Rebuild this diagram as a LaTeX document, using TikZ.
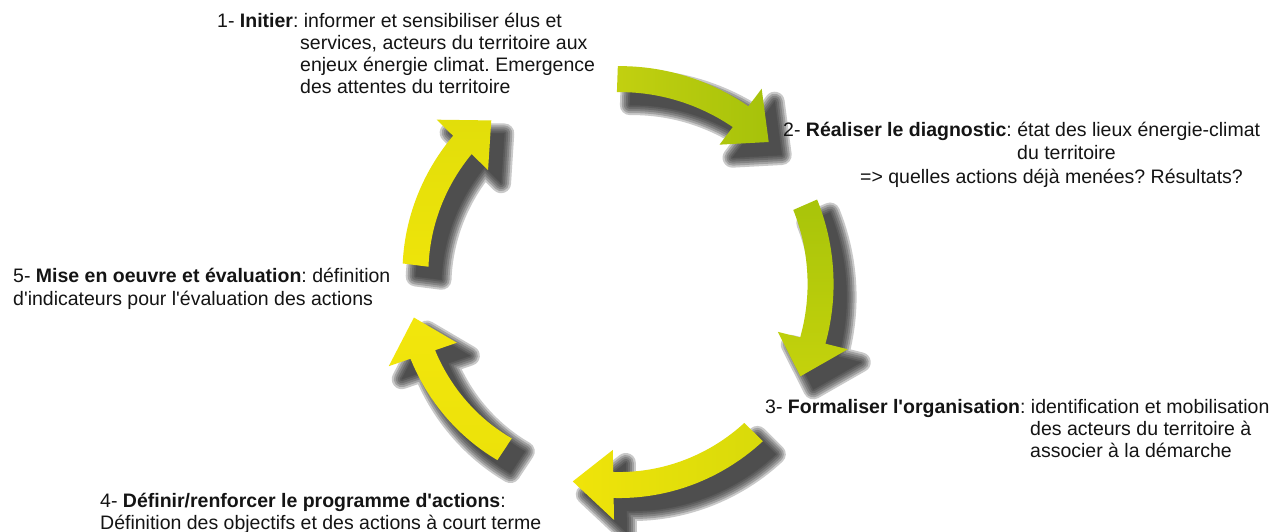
\documentclass[tikz,border=0pt]{standalone}
\usepackage{fontspec}
\setmainfont{Liberation Sans}[Ligatures=TeXOff]
\frenchspacing
\definecolor{gA1}{HTML}{C2D010}
\definecolor{gA2}{HTML}{A6C20A}
\definecolor{gB1}{HTML}{A8C40A}
\definecolor{gB2}{HTML}{C4D20C}
\definecolor{yC1}{HTML}{D8DA0A}
\definecolor{yC2}{HTML}{F0E40A}
\definecolor{yD1}{HTML}{F2E60C}
\definecolor{yD2}{HTML}{ECE20A}
\definecolor{yE1}{HTML}{EEE40A}
\definecolor{yE2}{HTML}{E2DE0A}
\definecolor{txtcol}{HTML}{141414}
\definecolor{shadowcol}{HTML}{2A2A2A}
\def\hw{13}
% ring arrow: start angle, end angle, tip angle, r start, r end, head half width
\newcommand\ringpath[6]{%
 plot[domain=#1:#2,samples=36,variable=\t]
   ({610+(#4+(#5-(#4))*(\t-(#1))/((#2)-(#1))+\hw)*cos(\t)},
    {-290+(#4+(#5-(#4))*(\t-(#1))/((#2)-(#1))+\hw)*sin(\t)})
 -- ({610+(#5+#6)*cos(#2)},{-290+(#5+#6)*sin(#2)})
 -- ({610+(#5)*cos(#3)},{-290+(#5)*sin(#3)})
 -- ({610+(#5-(#6))*cos(#2)},{-290+(#5-(#6))*sin(#2)})
 -- plot[domain=#2:#1,samples=36,variable=\t]
   ({610+(#4+(#5-(#4))*(\t-(#1))/((#2)-(#1))-\hw)*cos(\t)},
    {-290+(#4+(#5-(#4))*(\t-(#1))/((#2)-(#1))-\hw)*sin(\t)})
 -- cycle}
\tikzset{
  txt/.style={anchor=base west, inner sep=0pt, text=txtcol,
    font=\fontsize{19.5}{22}\selectfont},
  shadowlayer/.style={fill=shadowcol, draw=shadowcol, line join=round, shift={(13,-13)}}
}
\begin{document}
\begin{tikzpicture}[x=1pt,y=1pt]
\fill[white] (0,0) rectangle (1269,-532);
\useasboundingbox (0,0) rectangle (1269,-532);
% shadows
\foreach \sa/\sb/\stip/\ra/\rb/\hd in {88/53/43/211/217/35, 23.6/-14/-24.4/213/209/36, -44.7/-89/-101/202/195/35, -123.5/-161/-172/191/198/36, 172.7/135.5/125/196/207/36}{
  \foreach \w in {20,16,12,8,4,0.5}{
    \begin{scope}[transparency group, opacity=0.25]
      \path[shadowlayer, line width=\w pt] \ringpath{\sa}{\sb}{\stip}{\ra}{\rb}{\hd};
    \end{scope}
  }
}
% arrows
\shade[left color=gA1, right color=gA2] \ringpath{88}{53}{43}{211}{217}{35};
\shade[top color=gB1, bottom color=gB2] \ringpath{23.6}{-14}{-24.4}{213}{209}{36};
\shade[left color=yC2, right color=yC1] \ringpath{-44.7}{-89}{-101}{202}{195}{35};
\shade[top color=yD1, bottom color=yD2] \ringpath{-123.5}{-161}{-172}{191}{198}{36};
\shade[bottom color=yE1, top color=yE2] \ringpath{172.7}{135.5}{125}{196}{207}{36};
% texts
\node[txt] (t1a) at (217,-28) {1- \textbf{Initier}: informer et sensibiliser élus et};
\node[txt] (t1b) at (300,-49.8) {services, acteurs du territoire aux};
\node[txt] (t1c) at (300,-71.6) {enjeux énergie climat. Emergence};
\node[txt] (t1d) at (300,-93.4) {des attentes du territoire};
\node[txt] (t2a) at (783,-137) {2- \textbf{Réaliser le diagnostic}: état des lieux énergie-climat};
\node[txt] (t2b) at (1017,-160) {du territoire};
\node[txt] (t2c) at (860,-183) {=> quelles actions déjà menées? Résultats?};
\node[txt] (t3a) at (765,-413) {3- \textbf{Formaliser l'organisation}: identification et mobilisation};
\node[txt] (t3b) at (1030,-435) {des acteurs du territoire à};
\node[txt] (t3c) at (1030,-457) {associer à la démarche};
\node[txt] (t4a) at (100,-507) {4- \textbf{Définir/renforcer le programme d'actions}:};
\node[txt] (t4b) at (100,-529) {Définition des objectifs et des actions à court terme};
\node[txt] (t5a) at (13,-282) {5- \textbf{Mise en oeuvre et évaluation}: définition};
\node[txt] (t5b) at (13,-305) {d'indicateurs pour l'évaluation des actions};
\end{tikzpicture}
\end{document}
